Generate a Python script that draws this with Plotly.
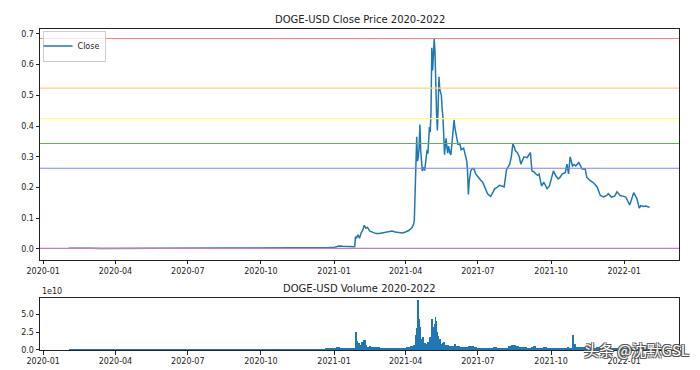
import plotly.graph_objects as go
from plotly.subplots import make_subplots
import pandas as pd

# ---------------- data ----------------
price_dates = [
    "2020-02-02","2020-02-15","2020-03-01","2020-03-13","2020-03-25","2020-04-10","2020-05-01",
    "2020-05-20","2020-06-10","2020-07-01","2020-07-08","2020-07-15","2020-08-01","2020-08-20",
    "2020-09-10","2020-10-01","2020-10-25","2020-11-10","2020-11-25","2020-12-10","2020-12-25",
    "2021-01-02","2021-01-07","2021-01-12","2021-01-20","2021-01-27","2021-01-28","2021-01-29",
    "2021-01-31","2021-02-02","2021-02-04","2021-02-06","2021-02-08","2021-02-10","2021-02-12",
    "2021-02-15","2021-02-19","2021-02-23","2021-02-27","2021-03-03","2021-03-07","2021-03-11",
    "2021-03-15","2021-03-19","2021-03-24","2021-03-28","2021-04-01","2021-04-05","2021-04-09",
    "2021-04-11","2021-04-12","2021-04-13","2021-04-14","2021-04-15","2021-04-16","2021-04-17",
    "2021-04-18","2021-04-19","2021-04-20","2021-04-21","2021-04-22","2021-04-23","2021-04-24",
    "2021-04-25","2021-04-26","2021-04-27","2021-04-28","2021-04-29","2021-04-30","2021-05-01",
    "2021-05-02","2021-05-03","2021-05-04","2021-05-05","2021-05-06","2021-05-07","2021-05-08",
    "2021-05-09","2021-05-10","2021-05-11","2021-05-12","2021-05-13","2021-05-14","2021-05-15",
    "2021-05-16","2021-05-17","2021-05-18","2021-05-19","2021-05-20","2021-05-21","2021-05-22",
    "2021-05-23","2021-05-24","2021-05-25","2021-05-26","2021-05-27","2021-05-28","2021-05-29",
    "2021-05-30","2021-06-01","2021-06-02","2021-06-04","2021-06-06","2021-06-08","2021-06-10",
    "2021-06-13","2021-06-15","2021-06-17","2021-06-18","2021-06-19","2021-06-20","2021-06-22",
    "2021-06-24","2021-06-26","2021-06-28","2021-07-01","2021-07-04","2021-07-07","2021-07-10",
    "2021-07-13","2021-07-15","2021-07-17","2021-07-20","2021-07-22","2021-07-25","2021-07-28",
    "2021-07-31","2021-08-03","2021-08-06","2021-08-08","2021-08-10","2021-08-12","2021-08-14",
    "2021-08-16","2021-08-17","2021-08-20","2021-08-22","2021-08-24","2021-08-26","2021-08-28",
    "2021-09-01","2021-09-03","2021-09-05","2021-09-07","2021-09-10","2021-09-12","2021-09-14",
    "2021-09-16","2021-09-19","2021-09-22","2021-09-26","2021-09-29","2021-10-01","2021-10-04",
    "2021-10-07","2021-10-10","2021-10-12","2021-10-15","2021-10-19","2021-10-21","2021-10-23",
    "2021-10-25","2021-10-28","2021-10-30","2021-11-01","2021-11-05","2021-11-09","2021-11-13",
    "2021-11-15","2021-11-19","2021-11-24","2021-11-28","2021-12-02","2021-12-06","2021-12-10",
    "2021-12-12","2021-12-16","2021-12-20","2021-12-23","2021-12-27","2021-12-30","2022-01-03",
    "2022-01-08","2022-01-13","2022-01-17","2022-01-20","2022-01-22","2022-01-25","2022-01-28",
    "2022-02-02",
]
close_prices = [
    0.0024,0.0032,0.0024,0.0016,0.0018,0.0020,0.0024,
    0.0025,0.0026,0.0025,0.0044,0.0034,0.0030,0.0033,
    0.0027,0.0026,0.0026,0.0027,0.0034,0.0032,0.0045,
    0.0053,0.0098,0.0085,0.0083,0.0074,0.040,0.034,
    0.046,0.035,0.052,0.060,0.077,0.068,0.070,
    0.058,0.054,0.050,0.050,0.052,0.056,0.056,
    0.058,0.055,0.054,0.052,0.055,0.060,0.070,
    0.080,0.095,0.180,0.265,0.365,0.286,0.300,
    0.330,0.405,0.320,0.270,0.254,0.262,0.265,
    0.255,0.275,0.300,0.323,0.310,0.340,0.397,
    0.380,0.450,0.655,0.581,0.630,0.685,0.640,
    0.460,0.440,0.386,0.480,0.560,0.520,0.507,
    0.500,0.455,0.430,0.370,0.307,0.340,0.360,
    0.330,0.312,0.335,0.320,0.310,0.307,0.330,
    0.360,0.420,0.395,0.370,0.339,0.345,0.323,
    0.328,0.310,0.286,0.250,0.177,0.220,0.254,
    0.262,0.261,0.245,0.233,0.225,0.217,0.200,
    0.180,0.175,0.171,0.185,0.196,0.200,0.207,
    0.205,0.202,0.258,0.265,0.276,0.300,0.342,
    0.330,0.320,0.312,0.300,0.276,0.290,0.300,
    0.297,0.305,0.314,0.254,0.250,0.244,0.240,
    0.244,0.205,0.217,0.196,0.205,0.228,0.254,
    0.238,0.228,0.232,0.244,0.249,0.276,0.244,
    0.300,0.270,0.275,0.270,0.281,0.260,0.261,
    0.233,0.223,0.214,0.202,0.174,0.169,0.174,
    0.180,0.169,0.172,0.186,0.174,0.172,0.169,
    0.143,0.183,0.164,0.133,0.141,0.138,0.140,
    0.136,
]

volume_dates = [
    "2020-02-02","2020-03-01","2020-04-01","2020-05-01","2020-06-01","2020-07-01","2020-08-01",
    "2020-09-01","2020-10-01","2020-11-01","2020-12-01","2020-12-20","2020-12-28","2021-01-03",
    "2021-01-08","2021-01-14","2021-01-22","2021-01-27","2021-01-28","2021-01-29","2021-01-30",
    "2021-02-01","2021-02-03","2021-02-05","2021-02-07","2021-02-08","2021-02-09","2021-02-11",
    "2021-02-14","2021-02-17","2021-02-21","2021-02-24","2021-02-28","2021-03-04","2021-03-09",
    "2021-03-14","2021-03-18","2021-03-23","2021-03-28","2021-04-02","2021-04-06","2021-04-10",
    "2021-04-13","2021-04-14","2021-04-15","2021-04-16","2021-04-17","2021-04-18","2021-04-19",
    "2021-04-20","2021-04-22","2021-04-24","2021-04-27","2021-04-29","2021-05-01","2021-05-03",
    "2021-05-04","2021-05-05","2021-05-06","2021-05-07","2021-05-08","2021-05-09","2021-05-10",
    "2021-05-11","2021-05-12","2021-05-13","2021-05-15","2021-05-17","2021-05-19","2021-05-20",
    "2021-05-23","2021-05-26","2021-05-30","2021-06-02","2021-06-04","2021-06-08","2021-06-12",
    "2021-06-16","2021-06-19","2021-06-22","2021-06-26","2021-06-30","2021-07-05","2021-07-10",
    "2021-07-15","2021-07-20","2021-07-25","2021-07-30","2021-08-04","2021-08-08","2021-08-12",
    "2021-08-15","2021-08-18","2021-08-22","2021-08-27","2021-09-01","2021-09-06","2021-09-08",
    "2021-09-12","2021-09-17","2021-09-21","2021-09-26","2021-10-01","2021-10-06","2021-10-11",
    "2021-10-16","2021-10-21","2021-10-24","2021-10-28","2021-10-29","2021-11-01","2021-11-05",
    "2021-11-10","2021-11-15","2021-11-20","2021-11-26","2021-12-02","2021-12-06","2021-12-12",
    "2021-12-18","2021-12-24","2021-12-30","2022-01-05","2022-01-10","2022-01-15","2022-01-20",
    "2022-01-25","2022-02-02",
]
# volume in units of 1e10
volume_e10 = [
    0.004,0.005,0.004,0.004,0.004,0.004,0.005,
    0.004,0.004,0.005,0.01,0.10,0.15,0.30,
    0.28,0.15,0.10,0.12,2.48,1.26,0.95,
    0.90,0.70,1.00,1.35,1.40,0.60,0.35,
    0.45,0.30,0.40,0.35,0.25,0.20,0.22,
    0.25,0.20,0.18,0.20,0.30,0.45,0.60,
    1.00,2.00,3.00,6.90,4.20,2.80,3.20,
    1.50,1.70,0.90,0.80,1.00,1.70,2.80,
    4.20,3.10,2.40,3.50,4.55,4.00,2.40,
    1.70,1.90,1.50,0.80,0.90,1.10,0.70,
    0.60,0.50,0.45,0.80,0.55,0.40,0.35,
    0.30,0.50,0.45,0.30,0.25,0.22,0.20,
    0.25,0.30,0.22,0.20,0.25,0.45,0.60,
    0.70,0.50,0.35,0.30,0.25,0.35,0.50,
    0.25,0.20,0.30,0.25,0.20,0.25,0.18,
    0.20,0.30,0.25,2.00,0.80,0.40,0.30,
    0.35,0.25,0.20,0.30,0.25,0.35,0.20,
    0.18,0.15,0.15,0.18,0.20,0.25,0.30,
    0.25,0.15,
]

fib_ratios = [0, 0.236, 0.382, 0.5, 0.618, 1]
fib_colors = ["#ff8080", "#ffd280", "#ffff80", "#60b060", "#8080ff", "#bf80bf"]

price_title = "DOGE-USD Close Price 2020-2022"
volume_title = "DOGE-USD Volume 2020-2022"
watermark = "头条 @沈默GSL"

# ---------------- figure ----------------
W, H = 700, 370
ML, MR, MT, MB = 32, 29, 21, 19
plot_h = H - MT - MB
top_dom = [(351 - 258) / plot_h, 1.0]
bot_dom = [0.0, (351 - 298) / plot_h]

fig = make_subplots(rows=2, cols=1)

fig.add_trace(go.Scatter(x=pd.to_datetime(price_dates), y=close_prices, mode="lines",
                         name="Close", line=dict(color="#1f77b4", width=1.5)),
              row=1, col=1)

vd = pd.to_datetime(volume_dates)
gaps = [(vd[i + 1] - vd[i]).total_seconds() * 1000 for i in range(len(vd) - 1)]
gaps.append(86400000.0)
fig.add_trace(go.Bar(x=vd, y=volume_e10, width=gaps, marker=dict(color="#1f77b4", line=dict(width=0)),
                     showlegend=False, offset=0),
              row=2, col=1)

pmax, pmin = max(close_prices), min(close_prices)
for r, c in zip(fib_ratios, fib_colors):
    lvl = pmax - r * (pmax - pmin)
    fig.add_shape(type="line", xref="x domain", yref="y", x0=0, x1=1, y0=lvl, y1=lvl,
                  line=dict(color=c, width=1.2), layer="above")

font_fam = "DejaVu Sans"
axis_common = dict(showline=True, mirror=True, linecolor="#222", linewidth=1,
                   ticks="outside", ticklen=3.5, tickwidth=0.8, tickcolor="#222",
                   showgrid=False, zeroline=False, tickfont=dict(size=8, color="#222", family=font_fam))
xr = ["2019-12-28", "2022-03-11"]
fig.update_xaxes(**axis_common, range=xr, tickformat="%Y-%m", dtick="M3", tick0="2020-01-01")
fig.update_yaxes(**axis_common)
fig.update_yaxes(range=[-0.0345, 0.716], tickvals=[0, 0.1, 0.2, 0.3, 0.4, 0.5, 0.6, 0.7],
                 tickformat=".1f", row=1, col=1)
fig.update_yaxes(range=[0, 7.2], tickvals=[0, 2.5, 5.0], tickformat=".1f", row=2, col=1)
fig.update_layout(yaxis=dict(domain=top_dom), yaxis2=dict(domain=bot_dom),
                  xaxis=dict(domain=[0, 1]), xaxis2=dict(domain=[0, 1]))

fig.update_layout(
    width=W, height=H, margin=dict(l=ML, r=MR, t=MT, b=MB),
    paper_bgcolor="white", plot_bgcolor="white",
    font=dict(family=font_fam, color="#222"),
    bargap=0,
    legend=dict(x=0.004, y=0.995, xanchor="left", yanchor="top", bgcolor="rgba(255,255,255,0.8)",
                bordercolor="#ccc", borderwidth=1, font=dict(size=8, family=font_fam),
                itemwidth=30, tracegroupgap=0, indentation=-6),
    showlegend=True,
)

fig.add_annotation(text=price_title, xref="paper", yref="paper", x=0.5, y=1.0, yanchor="bottom",
                   yshift=2, showarrow=False, font=dict(size=10, family=font_fam, color="#222"))
fig.add_annotation(text=volume_title, xref="paper", yref="paper", x=0.5, y=bot_dom[1], yanchor="bottom",
                   yshift=2, showarrow=False, font=dict(size=10, family=font_fam, color="#222"))
fig.add_annotation(text="1e10", xref="paper", yref="paper", x=0, y=bot_dom[1], xanchor="left",
                   yanchor="bottom", yshift=0, showarrow=False, font=dict(size=8, family=font_fam, color="#222"))
fig.add_annotation(text=watermark, xref="paper", yref="paper", x=1.0, y=0.0, xanchor="right",
                   yanchor="middle", xshift=12, yshift=1, showarrow=False,
                   font=dict(size=15, family="Noto Sans CJK SC", color="white",
                             shadow="1px 1px 0 #555, -1px -1px 0 #555, 1px -1px 0 #555, -1px 1px 0 #555"))

fig.write_html("out.html")
